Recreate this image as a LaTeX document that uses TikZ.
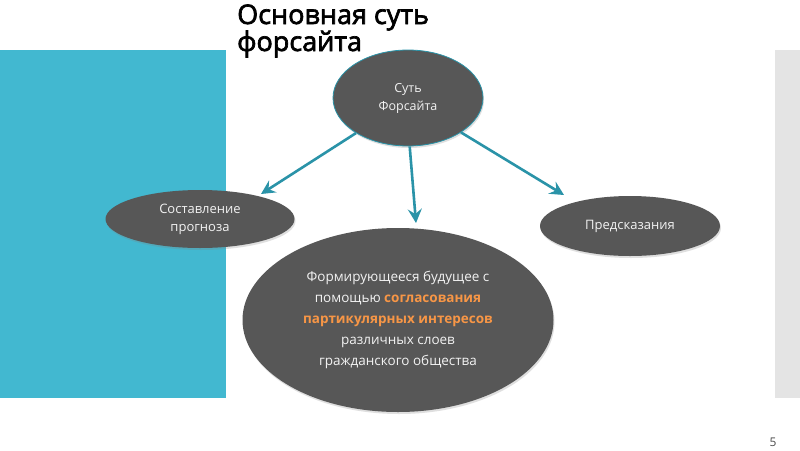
\documentclass[tikz,border=0pt]{standalone}
\usepackage{fontspec}
\setmainfont{Open Sans}
\newfontfamily\titlefont[FakeBold=2.5]{Open Sans}
\usetikzlibrary{shapes.geometric,arrows.meta,shadows}
\definecolor{tealbar}{HTML}{42B8D0}
\definecolor{graybar}{HTML}{E4E4E4}
\definecolor{ellfill}{HTML}{575757}
\definecolor{arrowc}{HTML}{2A93A8}
\definecolor{orangetx}{HTML}{F79646}
\definecolor{ltx}{HTML}{F2F2F2}
\tikzset{
  bubble/.style={ellipse, fill=ellfill, inner sep=0pt, text=ltx, align=center,
    drop shadow={shadow xshift=1pt, shadow yshift=-2pt, opacity=0.25}},
  conn/.style={draw=arrowc, line width=2.6pt, -{Stealth[length=14pt,width=14pt,inset=5pt]}},
  titletext/.style={anchor=base west, inner sep=0pt,
    font=\titlefont\fontsize{27}{29}\selectfont},
}
\begin{document}
\begin{tikzpicture}[x=1pt,y=-1pt]
\useasboundingbox (0,0) rectangle (800,450);
\fill[white] (0,0) rectangle (800,450);
\fill[tealbar] (0,50) rectangle (226,398);
\fill[graybar] (775,50) rectangle (800,398);
\node[titletext] (t1) at (237,24) {Основная суть};
\node[titletext] (t2) at (237,51) {форсайта};
\node[bubble, draw=arrowc, line width=0.8pt, minimum width=150pt, minimum height=96pt,
  font=\fontsize{12.5}{18}\selectfont] (top) at (408,98) {Суть\\Форсайта};
\node[bubble, minimum width=189pt, minimum height=58pt,
  font=\fontsize{13}{18}\selectfont] (left) at (200,219) {Составление\\прогноза};
\node[bubble, minimum width=180pt, minimum height=60pt,
  font=\fontsize{13}{18}\selectfont] (right) at (630,226) {Предсказания};
\node[bubble, minimum width=311pt, minimum height=184pt,
  font=\fontsize{13.5}{21}\selectfont] (bot) at (398,320)
  {Формирующееся будущее с\\помощью \textcolor{orangetx}{\textbf{согласования}}\\\textcolor{orangetx}{\textbf{партикулярных интересов}}\\различных слоев\\гражданского общества};
\coordinate (a1) at (261,194);
\coordinate (a2) at (416,223);
\coordinate (a3) at (564,195);
\draw[conn] (top.214.5) -- (a1);
\draw[conn] (top.272) -- (a2);
\draw[conn] (top.327.5) -- (a3);
\node[anchor=base, text=black!70, font=\fontsize{12}{14}\selectfont] (pg) at (773,446) {5};
\end{tikzpicture}
\end{document}
